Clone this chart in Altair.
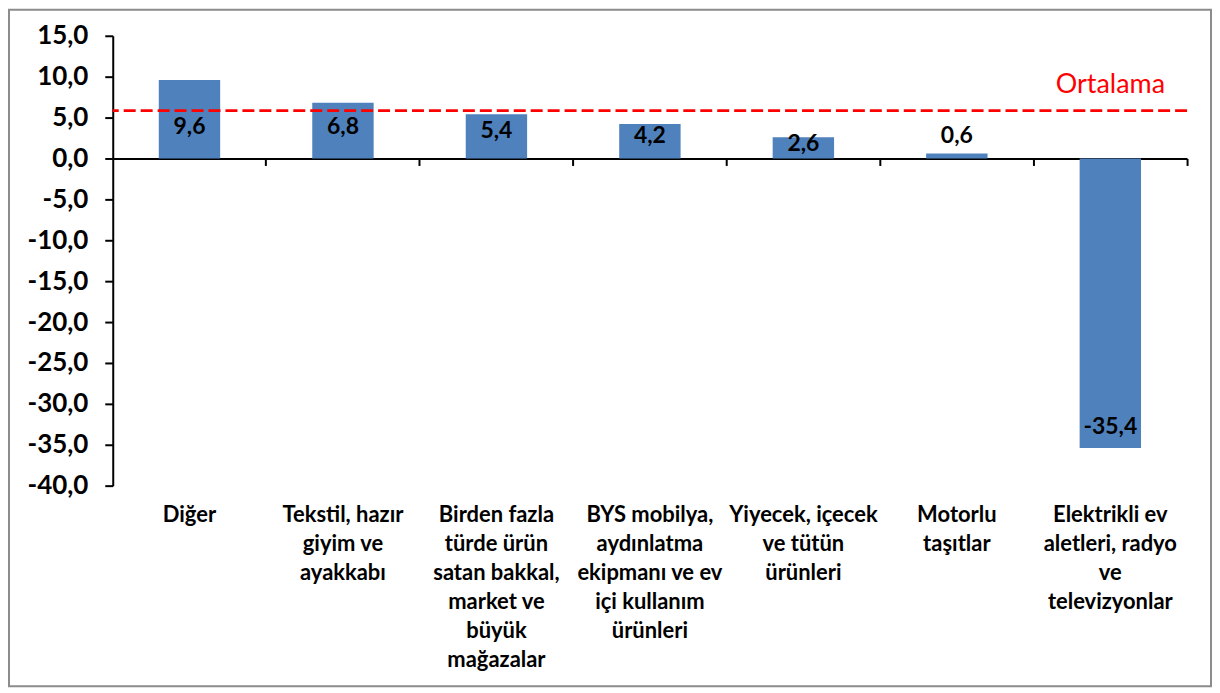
import altair as alt
import pandas as pd

categories = [
    "Diğer",
    "Tekstil, hazır|giyim ve|ayakkabı",
    "Birden fazla|türde ürün|satan bakkal,|market ve|büyük|mağazalar",
    "BYS mobilya,|aydınlatma|ekipmanı ve ev|içi kullanım|ürünleri",
    "Yiyecek, içecek|ve tütün|ürünleri",
    "Motorlu|taşıtlar",
    "Elektrikli ev|aletleri, radyo|ve|televizyonlar",
]
values = [9.6, 6.8, 5.4, 4.2, 2.6, 0.6, -35.4]
value_labels = ["9,6", "6,8", "5,4", "4,2", "2,6", "0,6", "-35,4"]
average_value = [5.85]
average_label = ["Ortalama"]

W, H = 1077, 451
Y_MIN, Y_MAX = -40, 15
FONT = "Lato"

df = pd.DataFrame({"cat": categories, "value": values, "label": value_labels})
avg_df = pd.DataFrame({"value": average_value, "label": average_label})

x_scale = alt.Scale(domain=categories, paddingInner=0, paddingOuter=0)
y_scale = alt.Scale(domain=[Y_MIN, Y_MAX], nice=False, zero=False)

y_axis = alt.Axis(
    values=list(range(Y_MIN, Y_MAX + 1, 5)),
    labelExpr="(datum.value < 0 ? '-' : '') + replace(format(abs(datum.value), '.1f'), '.', ',')",
    labelFont=FONT, labelFontSize=26, labelFontWeight="bold", labelColor="black",
    labelPadding=17, tickSize=8, tickWidth=2, tickColor="black",
    domainColor="black", domainWidth=2, grid=False, title=None,
)

bottom_axis = alt.Axis(
    orient="bottom", domain=False, ticks=False, labelAngle=0,
    labelExpr="split(datum.label, '|')",
    labelFont=FONT, labelFontSize=22, labelFontWeight="bold", labelColor="black",
    labelLineHeight=29, labelBaseline="top", labelPadding=19, labelLimit=0,
    title=None,
)

zero_axis = alt.Axis(
    orient="bottom", labels=False, domain=True, domainColor="black", domainWidth=2,
    ticks=True, tickColor="black", tickWidth=2, tickSize=7, bandPosition=1,
    offset=-(H * (-Y_MIN) / (Y_MAX - Y_MIN)), title=None, grid=False,
)

bars = alt.Chart(df).mark_bar(color="#4F81BD", width={"band": 0.4}).encode(
    x=alt.X("cat:N", sort=categories, scale=x_scale, axis=bottom_axis),
    y=alt.Y("value:Q", scale=y_scale, axis=y_axis),
)

texts = alt.Chart(df).transform_calculate(
    pos="datum.value < 0 ? datum.value + 2.6 : (datum.value < 1 ? datum.value + 2.1 : min(0.57 * datum.value + 0.3, 3.9))"
).mark_text(font=FONT, fontSize=23, fontWeight="bold", color="black", baseline="middle").encode(
    x=alt.X("cat:N", sort=categories, scale=x_scale, axis=zero_axis),
    y=alt.Y("pos:Q", scale=y_scale, axis=y_axis),
    text="label:N",
)

avg_rule = alt.Chart(avg_df).mark_rule(color="#FF0000", strokeDash=[12, 5], strokeWidth=3).encode(
    y=alt.Y("value:Q", scale=y_scale, axis=y_axis),
)

avg_text = alt.Chart(avg_df).mark_text(
    font=FONT, fontSize=27, color="#FF0000", align="right", baseline="middle", dy=-26
).encode(
    x=alt.value(W - 22),
    y=alt.Y("value:Q", scale=y_scale, axis=y_axis),
    text="label:N",
)

frame = alt.Chart(avg_df).mark_rect(fillOpacity=0, stroke="#8c8c8c", strokeWidth=2).encode(
    x=alt.value(-104), x2=alt.value(W + 24), y=alt.value(-26), y2=alt.value(H + 201),
)

chart = alt.layer(frame, bars, texts, avg_rule, avg_text).resolve_axis(
    x="independent"
).properties(width=W, height=H, padding=0).configure_view(strokeWidth=0)

chart.save("out.html", embed_options={"renderer": "svg", "actions": False})
